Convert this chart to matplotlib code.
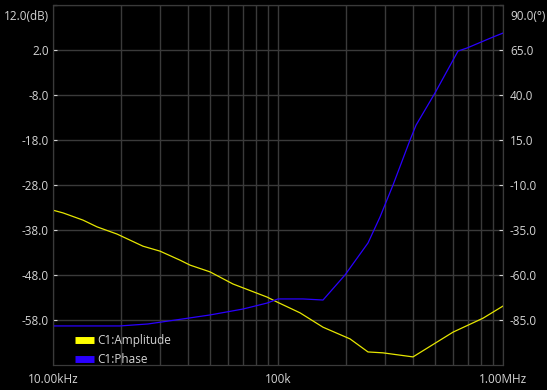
import numpy as np
import matplotlib
matplotlib.use('Agg')
from matplotlib import pyplot as plt
from matplotlib.lines import Line2D
from matplotlib.ticker import FixedLocator, NullFormatter
from matplotlib.transforms import ScaledTranslation

plt.rcParams['font.family'] = ['Open Sans', 'DejaVu Sans']

# amplitude trace (Hz, dB)
amp_freq = [10000, 11080, 13590, 15690, 19250, 25120, 29900, 36680, 40630, 49850,
            63100, 89370, 99000, 125200, 158500, 209000, 251200, 292900,
            398100, 599500, 815000, 1000000]
amp_db = [-33.6, -34.2, -35.8, -37.3, -38.9, -41.6, -42.7, -44.7, -45.8, -47.3,
          -50.0, -52.9, -54.0, -56.4, -59.6, -62.2, -65.1, -65.3,
          -66.2, -60.7, -57.6, -54.9]

# phase trace (Hz, deg)
ph_freq = [10000, 19850, 26440, 37820, 49850, 69900, 89370, 100000, 129200,
           158500, 198500, 251200, 284000, 324500, 386200, 411000, 498500,
           631000, 691800, 902600, 1000000]
ph_deg = [-88.3, -88.3, -87.2, -84.4, -82.2, -78.9, -75.6, -73.3, -73.3,
          -73.9, -60.0, -42.2, -27.8, -10.0, 15.0, 23.3, 41.1,
          64.4, 66.1, 72.2, 74.4]

db_ticks = [12, 2, -8, -18, -28, -38, -48, -58]
deg_ticks = [90, 65, 40, 15, -10, -35, -60, -85]
x_ticks = [1e4, 1e5, 1e6]
x_labels = ['10.00kHz', '100k', '1.00MHz']

bg = 'black'
grid_c = '#3a3a3a'
txt_c = '#d4d4d4'
fs = 8.5

fig = plt.figure(figsize=(5.47, 3.90), dpi=100, facecolor=bg)
ax = fig.add_axes([53/547, 25/390, 450/547, 360/390])
ax.set_facecolor(bg)
ax.set_xscale('log')
ax.set_xlim(1e4, 1e6)
ax.set_ylim(-68, 12)

ax.xaxis.set_major_locator(FixedLocator(x_ticks))
ax.set_xticklabels(x_labels)
minor = [m * 10**e for e in (4, 5) for m in range(2, 10)]
ax.xaxis.set_minor_locator(FixedLocator(minor))
ax.xaxis.set_minor_formatter(NullFormatter())
ax.tick_params(axis='x', which='both', length=0, pad=6, colors=txt_c, labelsize=fs)
ax.grid(True, which='both', axis='x', color=grid_c, linewidth=1)

ax.set_yticks(db_ticks)
ax.set_yticklabels(['12.0(dB)'] + ['%.1f' % v for v in db_ticks[1:]])
ax.tick_params(axis='y', direction='in', length=3, colors=txt_c,
               labelsize=fs, pad=3)
for t in ax.yaxis.get_major_ticks():
    t.tick1line.set_color('#999999')
ax.grid(True, axis='y', color=grid_c, linewidth=1)
for s in ax.spines.values():
    s.set_color(grid_c)

ax.plot(amp_freq, amp_db, color='#e6e600', linewidth=0.9)

ax2 = ax.twinx()
ax2.set_ylim(-110, 90)
ax2.set_yticks(deg_ticks)
ax2.set_yticklabels(['90.0(°)'] + ['%.1f' % v for v in deg_ticks[1:]])
ax2.tick_params(axis='y', direction='in', length=3, colors=txt_c,
                labelsize=fs, pad=5)
for t in ax2.yaxis.get_major_ticks():
    t.tick2line.set_color('#999999')
for s in ax2.spines.values():
    s.set_color(grid_c)
ax2.plot(ph_freq, ph_deg, color='#2a00ff', linewidth=0.9)

# top labels sit a bit below the axis top
shift = ScaledTranslation(0, -10/100, fig.dpi_scale_trans)
lab = ax.yaxis.get_major_ticks()[0].label1
lab.set_transform(lab.get_transform() + shift)
lab2 = ax2.yaxis.get_major_ticks()[0].label2
lab2.set_transform(lab2.get_transform() + shift)

handles = [Line2D([], [], color='#ffff00', linewidth=5, solid_capstyle='butt'),
           Line2D([], [], color='#2a00ff', linewidth=5, solid_capstyle='butt')]
leg = ax2.legend(handles, ['C1:Amplitude', 'C1:Phase'], loc='lower left',
                 bbox_to_anchor=(0.038, -0.016), frameon=False, fontsize=fs,
                 handlelength=1.6, handletextpad=0.3, labelspacing=0.5,
                 borderaxespad=0.0)
for t in leg.get_texts():
    t.set_color(txt_c)

fig.savefig('out.png', dpi=100, facecolor=bg)
